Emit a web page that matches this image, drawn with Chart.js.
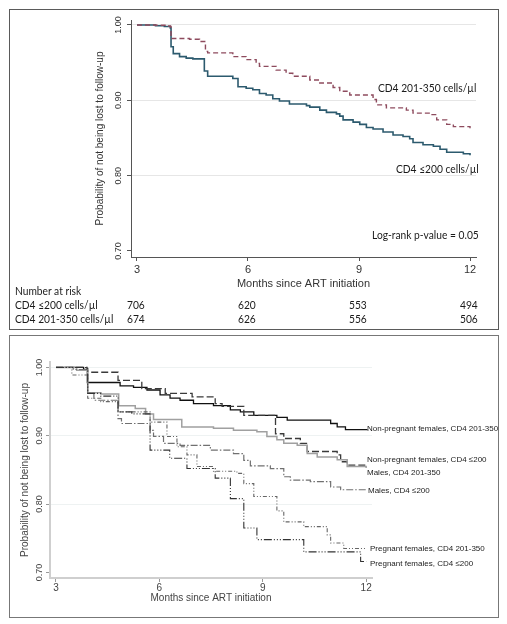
<!DOCTYPE html>
<html><head><meta charset="utf-8">
<script src="https://cdn.jsdelivr.net/npm/chart.js@4.4.1/dist/chart.umd.min.js"></script>
<style>
html,body{margin:0;padding:0;background:#fff;}
#wrap{position:relative;width:507px;height:624px;overflow:hidden;background:#fff;}
.frame{position:absolute;border:1px solid #5a5a5a;box-sizing:border-box;}
canvas{position:absolute;left:0;}
.t{position:absolute;white-space:nowrap;line-height:1;transform-origin:0 0;}
.cal{font-family:Lato,"Open Sans",sans-serif;font-size:11.5px;color:#1a1a1a;}
.ar{font-family:"Liberation Sans",Arial,sans-serif;font-size:8px;color:#222;}
</style></head><body>
<div id="wrap">
  <div class="frame" style="left:9px;top:9px;width:490px;height:321px"></div>
  <div class="frame" style="left:9px;top:335px;width:490px;height:283px;border-color:#777"></div>
  <canvas id="c1" width="507" height="330" style="top:0"></canvas>
  <canvas id="c2" width="507" height="294" style="top:330px"></canvas>
</div>
<script>
// ---------- data: top panel ----------
const months = [3, 6, 9, 12];
const yTicks = [0.7, 0.8, 0.9, 1.0];
const seriesTop = ["CD4 \u2264200 cells/\u00b5l", "CD4 201-350 cells/\u00b5l"];
const tLow = [3, 3.5, 3.74, 3.9, 3.92, 3.98, 4.15, 4.33, 4.51, 4.82, 4.91, 5.59, 5.73, 5.95, 6.13, 6.31, 6.49, 6.67, 6.85, 7.12, 7.58, 7.67, 7.94, 8.12, 8.39, 8.48, 8.57, 8.84, 9.02, 9.20, 9.38, 9.65, 9.92, 10.19, 10.37, 10.46, 10.73, 11.01, 11.19, 11.37, 11.82, 12.0];
const sLow = [1.0, 0.999, 0.998, 0.996, 0.971, 0.962, 0.958, 0.956, 0.955, 0.939, 0.932, 0.929, 0.918, 0.916, 0.914, 0.909, 0.907, 0.902, 0.899, 0.895, 0.893, 0.891, 0.887, 0.884, 0.882, 0.879, 0.874, 0.871, 0.868, 0.864, 0.862, 0.858, 0.854, 0.852, 0.849, 0.844, 0.841, 0.839, 0.835, 0.831, 0.829, 0.827];
const tMid = [3, 3.51, 3.79, 3.9, 3.92, 4.42, 4.69, 4.85, 4.91, 5.59, 5.95, 6.22, 6.31, 6.76, 7.03, 7.21, 7.67, 7.94, 8.30, 8.48, 8.75, 9.38, 9.47, 9.74, 10.28, 10.46, 10.92, 11.10, 11.37, 11.55, 12.0];
const sMid = [1.0, 0.9996, 0.9987, 0.998, 0.982, 0.981, 0.978, 0.965, 0.963, 0.958, 0.954, 0.949, 0.945, 0.940, 0.936, 0.932, 0.927, 0.923, 0.917, 0.912, 0.907, 0.901, 0.894, 0.890, 0.887, 0.883, 0.881, 0.874, 0.868, 0.865, 0.863];
const riskLow = [706, 620, 553, 494];
const riskMid = [674, 626, 556, 506];

// ---------- data: bottom panel ----------
const seriesBottom = ["Non-pregnant females, CD4 201-350", "Non-pregnant females, CD4 \u2264200", "Males, CD4 201-350", "Males, CD4 \u2264200", "Pregnant females, CD4 201-350", "Pregnant females, CD4 \u2264200"];
const tNpf201 = [3, 3.8, 3.91, 4.86, 5.25, 5.64, 6.02, 6.31, 6.6, 6.99, 7.57, 8.06, 8.35, 8.74, 9.41, 9.71, 10.97, 11.16, 11.4, 12.04];
const sNpf201 = [1, 0.997, 0.978, 0.973, 0.971, 0.967, 0.96, 0.955, 0.952, 0.947, 0.944, 0.938, 0.935, 0.93, 0.927, 0.923, 0.918, 0.913, 0.909, 0.909];
const tNpf200 = [3, 3.9, 3.92, 4.8, 5.49, 6.17, 6.95, 7.62, 7.82, 8.45, 9.37, 9.61, 10.09, 10.29, 11.16, 11.26, 11.45, 12.0];
const sNpf200 = [1, 0.998, 0.993, 0.981, 0.969, 0.962, 0.957, 0.947, 0.943, 0.930, 0.903, 0.896, 0.889, 0.877, 0.872, 0.862, 0.857, 0.854];
const tM201 = [3, 3.6, 3.92, 4.3, 4.82, 5.3, 5.6, 5.83, 6.65, 7.57, 8.15, 8.83, 9.12, 9.41, 9.61, 10.0, 10.29, 10.58, 11.16, 11.45, 12.0];
const sM201 = [1, 0.996, 0.963, 0.961, 0.944, 0.94, 0.932, 0.924, 0.913, 0.911, 0.908, 0.906, 0.899, 0.894, 0.889, 0.886, 0.874, 0.869, 0.865, 0.855, 0.853];
const tM200 = [3, 3.5, 3.92, 4.1, 4.8, 4.9, 5.73, 5.83, 6.12, 6.6, 7.48, 8.15, 8.45, 8.64, 9.22, 9.61, 9.8, 10.38, 10.97, 11.26, 12.0];
const sM200 = [1, 0.997, 0.962, 0.952, 0.925, 0.918, 0.908, 0.899, 0.889, 0.886, 0.879, 0.874, 0.864, 0.856, 0.852, 0.840, 0.835, 0.833, 0.825, 0.821, 0.821];
const tPf201 = [3, 3.46, 3.92, 4.3, 4.8, 5.73, 6.22, 6.51, 6.8, 7.09, 7.57, 8.25, 8.45, 8.74, 9.41, 9.61, 10.19, 10.87, 10.97, 11.35, 12.0];
const sPf201 = [1, 0.989, 0.955, 0.95, 0.935, 0.92, 0.899, 0.884, 0.872, 0.855, 0.848, 0.845, 0.83, 0.811, 0.79, 0.774, 0.767, 0.755, 0.743, 0.735, 0.735];
const tPf200 = [3, 3.92, 4.3, 4.8, 5.2, 5.73, 6.3, 6.8, 7.62, 8.06, 8.45, 8.83, 10.19, 11.84, 12.0];
const sPf200 = [1, 0.962, 0.958, 0.935, 0.932, 0.879, 0.867, 0.852, 0.838, 0.808, 0.765, 0.748, 0.730, 0.716, 0.716];

const pts = (t, s) => t.map((x, i) => ({x: x, y: s[i]}));
const line = (t, s, color, width, dash) => ({data: pts(t, s), borderColor: color, borderWidth: width, borderDash: dash, stepped: true, pointRadius: 0, fill: false, tension: 0});

function scalesFor(o) {
  return {
    x: {type: 'linear', min: o.xmin, max: o.xmax,
      afterBuildTicks: s => { s.ticks = months.map(v => ({value: v})); },
      afterFit: s => { s.height = o.xh; },
      grid: {drawOnChartArea: false, drawTicks: true, tickLength: 4, tickColor: o.tickCol},
      border: {display: true, color: o.axisCol, width: o.axisW},
      ticks: {font: {family: 'Liberation Sans', size: o.xfs}, color: o.txtCol, padding: o.xpad, maxRotation: 0, autoSkip: false},
      title: {display: true, text: 'Months since ART initiation', font: {family: 'Liberation Sans', size: o.xtfs}, color: o.txtCol, padding: {top: 0, bottom: o.xtpad}}
    },
    y: {type: 'linear', min: o.ymin, max: o.ymax,
      afterBuildTicks: s => { s.ticks = yTicks.map(v => ({value: v})); },
      afterFit: s => { s.width = o.yw; },
      grid: {drawTicks: true, tickLength: 4, tickColor: o.tickCol, lineWidth: 1,
        color: c => (c.tick && c.tick.value < 0.75) ? 'rgba(0,0,0,0)' : o.gridCol},
      border: {display: true, color: o.axisCol, width: o.axisW},
      ticks: {font: {family: 'Liberation Sans', size: o.yfs}, color: o.txtCol, padding: o.ypad, minRotation: 90, maxRotation: 90, crossAlign: 'center', autoSkip: false,
        callback: v => Number(v).toFixed(2)},
      title: {display: true, text: 'Probability of not being lost to follow-up', font: {family: 'Liberation Sans', size: o.ytfs}, color: o.txtCol, padding: {top: o.ytpad, bottom: 0}}
    }
  };
}

const common = {responsive: false, animation: false, devicePixelRatio: 1,
  plugins: {legend: {display: false}, tooltip: {enabled: false}}};

const c1 = new Chart(document.getElementById('c1'), {
  type: 'line',
  data: {datasets: [
    line(tMid, sMid, '#8e4b5e', 1.4, [5, 3]),
    line(tLow, sLow, '#2c5a6e', 1.6, [])
  ]},
  options: Object.assign({}, common, {
    layout: {padding: {left: 0, right: 31, top: 20, bottom: 0}},
    scales: scalesFor({xmin: 2.838, xmax: 12.162, ymin: 0.692, ymax: 1.0066, xh: 73, yw: 131,
      tickCol: '#555', axisCol: '#555', axisW: 1, gridCol: '#e6e6e6', txtCol: '#333',
      xfs: 11, xpad: 2, xtfs: 11, xtpad: 39, yfs: 9, ypad: 0, ytfs: 10, ytpad: 94})
  })
});

const c2 = new Chart(document.getElementById('c2'), {
  type: 'line',
  data: {datasets: [
    line(tPf200, sPf200, '#333', 1.1, [8, 2, 1, 2, 1, 2, 1, 2]),
    line(tPf201, sPf201, '#666', 1.1, [4, 2, 1, 2, 1, 2]),
    line(tM200, sM200, '#707070', 1.2, [7, 2, 1.5, 2]),
    line(tM201, sM201, '#a0a0a0', 1.5, []),
    line(tNpf200, sNpf200, '#3a3a3a', 1.3, [7, 3]),
    line(tNpf201, sNpf201, '#111', 1.3, [])
  ]},
  options: Object.assign({}, common, {
    layout: {padding: {left: 0, right: 135, top: 32, bottom: 0}},
    scales: scalesFor({xmin: 2.826, xmax: 12.17, ymin: 0.6918, ymax: 1.008, xh: 46, yw: 50,
      tickCol: '#999', axisCol: '#cfcfcf', axisW: 2, gridCol: '#eef2f2', txtCol: '#444',
      xfs: 10, xpad: 0, xtfs: 10, xtpad: 20, yfs: 9, ypad: -2, ytfs: 10, ytpad: 19})
  })
});

// ---------- text annotations ----------
const wrap = document.getElementById('wrap');
function addText(txt, cls, x, yc, align, sx) {
  const d = document.createElement('div');
  d.className = 't ' + cls;
  d.textContent = txt;
  wrap.appendChild(d);
  d.style.transform = 'scaleX(' + sx + ')';
  const fs = parseFloat(getComputedStyle(d).fontSize);
  const w = d.offsetWidth * sx;
  d.style.top = (yc - fs * 0.55) + 'px';
  if (align === 'right') { d.style.left = (x - w) + 'px'; }
  else if (align === 'center') { d.style.left = (x - w / 2) + 'px'; }
  else { d.style.left = x + 'px'; }
}
const SX = 0.89;
addText(seriesTop[1], 'cal', 477, 88, 'right', SX);
addText(seriesTop[0], 'cal', 479, 169, 'right', SX);
addText('Log-rank p-value = 0.05', 'cal', 479, 235, 'right', SX);
addText('Number at risk', 'cal', 15, 291, 'left', SX);
addText(seriesTop[0], 'cal', 15, 305, 'left', SX);
addText(seriesTop[1], 'cal', 15, 319, 'left', SX);
const xs = c1.scales.x;
months.forEach((m, i) => {
  addText(String(riskLow[i]), 'cal', xs.getPixelForValue(m) - 1, 305, 'center', SX);
  addText(String(riskMid[i]), 'cal', xs.getPixelForValue(m) - 1, 319, 'center', SX);
});
const lbl = [[367, 429], [367, 460], [367, 473], [368, 491], [370, 549], [370, 564]];
seriesBottom.forEach((s, i) => addText(s, 'ar', lbl[i][0], lbl[i][1], 'left', 1));
</script>
</body></html>
